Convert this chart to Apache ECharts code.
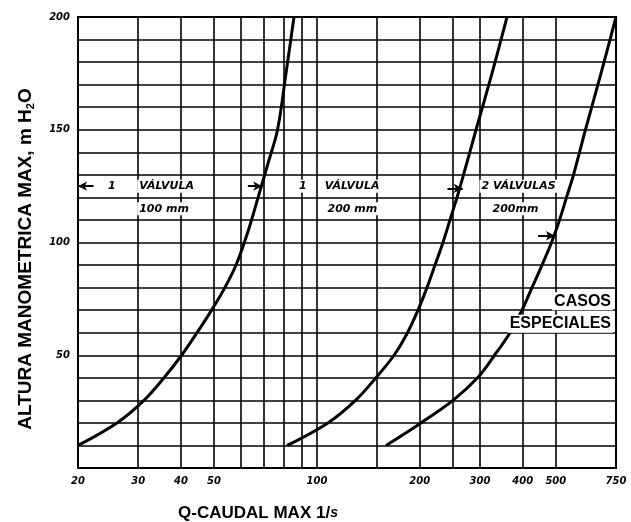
<!DOCTYPE html>
<html>
<head>
<meta charset="utf-8">
<script src="https://cdn.jsdelivr.net/npm/echarts@6/dist/echarts.min.js"></script>
<style>
html,body{margin:0;padding:0;background:#fff;}
#chart{width:631px;height:522px;}
</style>
</head>
<body>
<div id="chart"></div>
<script>
// ---- data ----
const xLabelValues = [20, 30, 40, 50, 100, 200, 300, 400, 500, 750];
const xGridValues = [20, 30, 40, 50, 60, 70, 80, 90, 100, 150, 200, 250, 300, 400, 500, 750];
const yLabelValues = [50, 100, 150, 200];

// 1 válvula 100 mm
const curve1Q = [20, 26.0, 31.2, 35.7, 40.2, 44.6, 49.2, 53.8, 58.0, 62.9, 67.3, 71.9, 76.7, 81.2, 85.7];
const curve1H = [10, 20, 30, 40, 50, 60, 70, 80, 90, 105, 120, 135, 150, 175, 200];
// 1 válvula 200 mm
const curve2Q = [81.8, 107.7, 129.7, 148.8, 168.1, 184.1, 197.6, 209.9, 221.6, 233.8, 245.1, 257.0, 268.5, 292.1, 325.3, 359.9];
const curve2H = [10, 20, 30, 40, 50, 60, 70, 80, 90, 100, 110, 120, 130, 150, 175, 200];
// 2 válvulas 200 mm
const curve3Q = [159.3, 201.6, 250.1, 295.0, 330.9, 367.3, 398.1, 425.9, 455.6, 485.7, 512.6, 537.3, 563.3, 610.5, 677.9, 750];
const curve3H = [10, 20, 30, 40, 50, 60, 70, 80, 90, 100, 110, 120, 130, 150, 175, 200];

// text annotations (position in data units)
const annoText = ['1', 'VÁLVULA', '100 mm', '1', 'VÁLVULA', '200 mm', '2 VÁLVULAS', '200mm', 'CASOS', 'ESPECIALES'];
const annoQ    = [25.1, 29.8, 29.8, 91, 104, 106, 299, 322, 735, 735];
const annoH    = [125, 125, 115, 125, 125, 115, 125, 115, 74, 64];
const annoKind = ['c', 'l', 'm', 'c', 'l', 'm', 'l', 'm', 'r', 'r'];

// arrows: start -> tip
const arrowQ0 = [22.2, 62.8, 241, 444];
const arrowQ1 = [20, 69.2, 267, 497];
const arrowH  = [125, 125, 124, 103];

// ---- chart ----
const zip = (a, b) => a.map((v, i) => [v, b[i]]);
const tickFont = {fontFamily: 'DejaVu Sans', fontStyle: 'italic', fontWeight: 'bold', fontSize: 10, color: '#000'};

const annoData = annoText.map((t, i) => {
  const k = annoKind[i];
  let label;
  if (k === 'r') {
    label = {position: 'left', distance: 0, fontFamily: 'Liberation Sans', fontWeight: 'bold', fontStyle: 'normal', fontSize: 16};
  } else if (k === 'c') {
    label = {position: 'inside', fontFamily: 'DejaVu Sans', fontWeight: 'bold', fontStyle: 'italic', fontSize: 11};
  } else {
    label = {position: 'right', distance: 0, fontFamily: 'DejaVu Sans', fontWeight: 'bold', fontStyle: 'italic', fontSize: 11};
  }
  return {value: [annoQ[i], annoH[i], t], label: label};
});

const arrowData = arrowQ0.map((q, i) => [
  {coord: [q, arrowH[i]], symbol: 'none'},
  {coord: [arrowQ1[i], arrowH[i]], symbol: 'arrow', symbolSize: [7, 9]}
]);

const curveStyle = {color: '#000', width: 3};

const option = {
  animation: false,
  backgroundColor: '#fff',
  grid: {left: 78, right: 15, top: 17, bottom: 54, show: true, borderColor: '#000', borderWidth: 2},
  xAxis: {
    type: 'log', logBase: 10, min: 20, max: 750,
    axisLine: {show: true, lineStyle: {color: '#000', width: 2}},
    axisTick: {show: false, customValues: xGridValues},
    splitLine: {show: true, lineStyle: {color: '#000', width: 1.6}},
    minorSplitLine: {show: false},
    axisLabel: Object.assign({customValues: xLabelValues, margin: 8, formatter: v => String(Math.round(v))}, tickFont)
  },
  yAxis: {
    type: 'value', min: 0, max: 200, interval: 10,
    axisLine: {show: true, lineStyle: {color: '#000', width: 2}},
    axisTick: {show: false},
    splitLine: {show: true, lineStyle: {color: '#000', width: 1.6}},
    axisLabel: Object.assign({margin: 8, formatter: v => yLabelValues.indexOf(v) >= 0 ? String(v) : ''}, tickFont)
  },
  graphic: [
    {
      type: 'text', x: 26, y: 259, rotation: Math.PI / 2,
      style: {
        text: '{t|ALTURA MANOMETRICA MAX, m H}{s|2}{t|O}',
        align: 'center', verticalAlign: 'middle',
        rich: {
          t: {fontFamily: 'Liberation Sans', fontWeight: 'bold', fontSize: 19, fill: '#000', lineHeight: 20},
          s: {fontFamily: 'Liberation Sans', fontWeight: 'bold', fontSize: 11, fill: '#000', verticalAlign: 'bottom', padding: [6, 0, 0, 0], lineHeight: 20}
        }
      }
    },
    {
      type: 'text', x: 258, y: 513,
      style: {
        text: '{t|Q-CAUDAL MAX 1/}{i|s}',
        align: 'center', verticalAlign: 'middle',
        rich: {
          t: {fontFamily: 'Liberation Sans', fontWeight: 'bold', fontSize: 17, fill: '#000'},
          i: {fontFamily: 'Liberation Sans', fontWeight: 'bold', fontStyle: 'italic', fontSize: 14, fill: '#000'}
        }
      }
    }
  ],
  series: [
    {type: 'line', name: '1 válvula 100 mm', data: zip(curve1Q, curve1H), showSymbol: false, smooth: 0.35, lineStyle: curveStyle, z: 3},
    {type: 'line', name: '1 válvula 200 mm', data: zip(curve2Q, curve2H), showSymbol: false, smooth: 0.35, lineStyle: curveStyle, z: 3},
    {type: 'line', name: '2 válvulas 200 mm', data: zip(curve3Q, curve3H), showSymbol: false, smooth: 0.35, lineStyle: curveStyle, z: 3,
      markLine: {
        silent: true, symbol: ['none', 'arrow'], symbolSize: 9,
        lineStyle: {color: '#000', width: 2, type: 'solid', opacity: 1},
        label: {show: false},
        emphasis: {disabled: true},
        data: arrowData
      }
    },
    {
      type: 'scatter', name: 'textos', data: annoData, symbolSize: 0, z: 10,
      encode: {x: 0, y: 1},
      itemStyle: {opacity: 1},
      emphasis: {disabled: true},
      label: {
        show: true, color: '#000', opacity: 1, backgroundColor: '#fff', padding: [1, 2, 1, 2],
        formatter: p => p.value[2]
      }
    }
  ]
};

const chart = echarts.init(document.getElementById('chart'), null, {renderer: 'canvas'});
chart.setOption(option);
</script>
</body>
</html>
